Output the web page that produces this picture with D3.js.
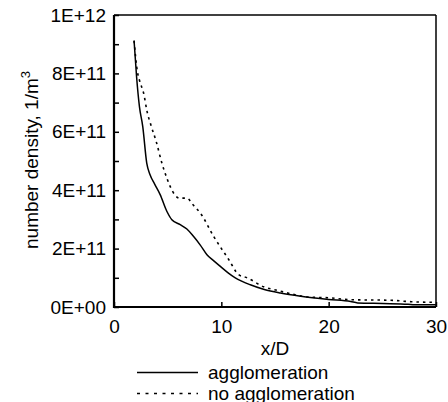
<!DOCTYPE html>
<html>
<head>
<meta charset="utf-8">
<script src="https://cdn.jsdelivr.net/npm/d3@7"></script>
<style>
  body { margin: 0; background: #fff; }
  text { font-family: "Liberation Sans", Arial, sans-serif; fill: #000; }
</style>
</head>
<body>
<svg id="chart" width="448" height="402"></svg>
<script>
// ---- data ----
var aggX = [1.87, 2.1, 2.37, 2.68, 3.05, 3.36, 3.8, 4.3, 4.92, 5.39, 6.17, 6.79, 7.4, 8.04, 8.66, 9.3, 9.91, 10.6, 11.3, 12.7, 14.0, 15.5, 17.4, 20.0, 22.05, 22.7, 25.0, 27.4, 28.0, 30.0];
var aggY = [9.12e11, 7.9e11, 6.86e11, 6.18e11, 4.93e11, 4.53e11, 4.2e11, 3.85e11, 3.28e11, 2.99e11, 2.82e11, 2.67e11, 2.42e11, 2.12e11, 1.79e11, 1.58e11, 1.39e11, 1.18e11, 1.0e11, 7.6e10, 6.0e10, 4.8e10, 3.7e10, 2.6e10, 1.9e10, 1.4e10, 1.2e10, 9.6e9, 8.0e9, 8.0e9];

var noAggX = [1.87, 2.18, 2.36, 2.8, 3.05, 3.43, 3.93, 4.46, 4.98, 5.23, 6.11, 6.79, 7.36, 8.04, 9.28, 10.7, 11.6, 12.4, 13.95, 15.2, 16.4, 17.9, 20.2, 22.05, 25.8, 27.7, 30.0];
var noAggY = [9.12e11, 8.06e11, 7.78e11, 7.26e11, 6.75e11, 6.24e11, 5.67e11, 4.93e11, 4.36e11, 4.13e11, 3.73e11, 3.73e11, 3.5e11, 3.22e11, 2.42e11, 1.62e11, 1.11e11, 1.0e11, 6.9e10, 5.7e10, 4.6e10, 3.5e10, 3.1e10, 2.5e10, 2.3e10, 1.8e10, 1.6e10];

var xTicks = [0, 10, 20, 30];
var xTickLabels = ["0", "10", "20", "30"];
var yTicks = [0, 2e11, 4e11, 6e11, 8e11, 1e12];
var yTickLabels = ["0E+00", "2E+11", "4E+11", "6E+11", "8E+11", "1E+12"];
var yMinor = [1e11, 3e11, 5e11, 7e11, 9e11];
var seriesNames = ["agglomeration", "no agglomeration"];

// ---- layout ----
var pl = 114, pr = 436, pt = 15, pb = 307;
var fs = "19px";
var svg = d3.select("#chart");

var x = d3.scaleLinear().domain([0, 30]).range([pl, pr]);
var y = d3.scaleLinear().domain([0, 1e12]).range([pb, pt]);

// curves
var line = d3.line()
  .x(function(d){ return x(d[0]); })
  .y(function(d){ return y(d[1]); })
  .curve(d3.curveMonotoneX);

var aggData = aggX.map(function(v, i){ return [v, aggY[i]]; });
var noAggData = noAggX.map(function(v, i){ return [v, noAggY[i]]; });

svg.append("path")
  .attr("d", line(noAggData))
  .attr("fill", "none")
  .attr("stroke", "#000")
  .attr("stroke-width", 1.6)
  .attr("stroke-dasharray", "2.5,4");

svg.append("path")
  .attr("d", line(aggData))
  .attr("fill", "none")
  .attr("stroke", "#000")
  .attr("stroke-width", 1.5);

// axes
var yAxis = d3.axisLeft(y)
  .tickValues(yTicks)
  .tickFormat(function(d, i){ return yTickLabels[i]; })
  .tickSize(-5)
  .tickPadding(8);
var gy = svg.append("g").attr("transform", "translate(" + pl + ",0)").call(yAxis);

var gyMinor = svg.append("g").attr("transform", "translate(" + pl + ",0)")
  .call(d3.axisLeft(y).tickValues(yMinor).tickFormat("").tickSize(-5));

var xAxis = d3.axisBottom(x)
  .tickValues(xTicks)
  .tickFormat(function(d, i){ return xTickLabels[i]; })
  .tickSize(-5)
  .tickPadding(10);
var gx = svg.append("g").attr("transform", "translate(0," + pb + ")").call(xAxis);

[gy, gyMinor, gx].forEach(function(g){
  g.select(".domain").remove();
  g.selectAll(".tick line").attr("stroke", "#000").attr("stroke-width", 1.5);
  g.selectAll(".tick text").style("font-size", fs);
  g.attr("font-family", null).attr("font-size", null);
});
gx.selectAll(".tick text").attr("dy", "0.85em");

// frame
svg.append("line").attr("x1", pl).attr("x2", pr).attr("y1", pt).attr("y2", pt)
  .attr("stroke", "#000").attr("stroke-width", 1.5);
svg.append("line").attr("x1", pr).attr("x2", pr).attr("y1", pt).attr("y2", pb)
  .attr("stroke", "#000").attr("stroke-width", 1.5);
svg.append("line").attr("x1", pl).attr("x2", pl).attr("y1", pt).attr("y2", pb + 1)
  .attr("stroke", "#000").attr("stroke-width", 2.2);
svg.append("line").attr("x1", pl - 1).attr("x2", pr).attr("y1", pb).attr("y2", pb)
  .attr("stroke", "#000").attr("stroke-width", 2.2);

// axis titles
svg.append("text")
  .attr("x", 275)
  .attr("y", 355)
  .attr("text-anchor", "middle")
  .style("font-size", fs)
  .text("x/D");

var yl = svg.append("text")
  .attr("transform", "translate(38,160) rotate(-90)")
  .attr("text-anchor", "middle")
  .style("font-size", fs);
yl.append("tspan").text("number density, 1/m");
yl.append("tspan").attr("dy", "-0.6em").style("font-size", "13px").text("3");

// legend
var legY = [372.5, 393.5];
var dashes = [null, "3,5.5"];
seriesNames.forEach(function(name, i){
  svg.append("line")
    .attr("x1", 137).attr("x2", 198)
    .attr("y1", legY[i]).attr("y2", legY[i])
    .attr("stroke", "#000").attr("stroke-width", 1.6)
    .attr("stroke-dasharray", dashes[i]);
  svg.append("text")
    .attr("x", 208).attr("y", legY[i] + 6)
    .style("font-size", fs)
    .text(name);
});
</script>
</body>
</html>
